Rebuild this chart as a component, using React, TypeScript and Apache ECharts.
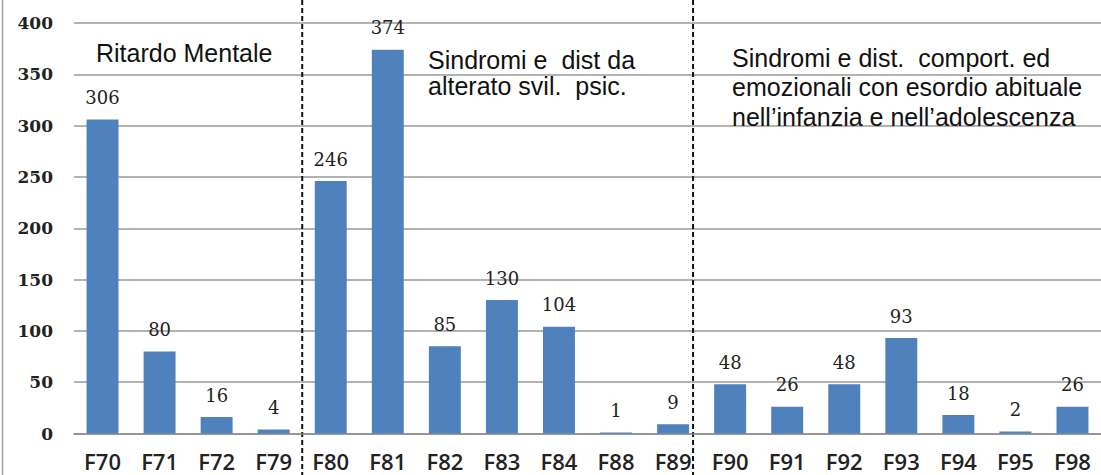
import React, { useEffect, useRef } from 'react';
import * as echarts from 'echarts';

const categories = ['F70', 'F71', 'F72', 'F79', 'F80', 'F81', 'F82', 'F83', 'F84', 'F88', 'F89', 'F90', 'F91', 'F92', 'F93', 'F94', 'F95', 'F98'];
const counts = [306, 80, 16, 4, 246, 374, 85, 130, 104, 1, 9, 48, 26, 48, 93, 18, 2, 26];
const yMin = 0;
const yMax = 400;
const yStep = 50;
const groupTitles = [
  'Ritardo Mentale',
  'Sindromi e  dist da\nalterato svil.  psic.',
  'Sindromi e dist.  comport. ed\nemozionali con esordio abituale\nnell\u2019infanzia e nell\u2019adolescenza',
];
// separators placed after these categories
const separatorAfter = ['F79', 'F89'];

export default function App() {
  const ref = useRef<HTMLDivElement>(null);
  useEffect(() => {
    if (!ref.current) return;
    const chart = echarts.init(ref.current, undefined, { renderer: 'svg' });
    chart.setOption({
      animation: false,
      backgroundColor: '#ffffff',
      grid: { left: 74, top: 23, width: 1030, height: 410.5, containLabel: false },
      xAxis: {
        type: 'category',
        data: categories,
        axisLine: { show: true, lineStyle: { color: '#8c8c8c', width: 1.5 } },
        axisTick: { show: false },
        axisLabel: {
          fontFamily: '"Open Sans"',
          fontSize: 22,
          fontWeight: 600,
          color: '#222',
          margin: 16,
          interval: 0,
        },
      },
      yAxis: {
        type: 'value',
        min: yMin,
        max: yMax,
        interval: yStep,
        axisLine: { show: false },
        axisTick: { show: false },
        axisLabel: {
          fontFamily: '"DejaVu Serif"',
          fontWeight: 'bold',
          fontSize: 17,
          color: '#222',
          margin: 21,
        },
        splitLine: { lineStyle: { color: '#9a9a9a', width: 1.5 } },
      },
      series: [
        {
          type: 'bar',
          data: counts,
          barCategoryGap: '44%',
          itemStyle: { color: '#4F81BD' },
          label: {
            show: true,
            position: 'top',
            distance: 12,
            fontFamily: '"DejaVu Serif"',
            fontSize: 18,
            lineHeight: 20,
            color: '#222',
          },
        },
      ],
    });

    const c = (name: string) => chart.convertToPixel({ xAxisIndex: 0 }, name) as number;
    const idx1 = categories.indexOf(separatorAfter[0]);
    const idx2 = categories.indexOf(separatorAfter[1]);
    const sep1 = (c(categories[idx1]) + c(categories[idx1 + 1])) / 2;
    const sep2 = c(categories[idx2]) + 0.35 * (c(categories[idx2 + 1]) - c(categories[idx2]));
    const dash = { stroke: '#111', lineWidth: 2, lineDash: [5, 3] };
    const font = '25px "Liberation Sans"';

    chart.setOption({
      graphic: [
        { type: 'line', shape: { x1: 2.5, y1: 0, x2: 2.5, y2: 475 }, style: { stroke: '#a0a0a0', lineWidth: 1.5 }, silent: true },
        { type: 'line', shape: { x1: sep1, y1: 0, x2: sep1, y2: 475 }, style: dash, silent: true },
        { type: 'line', shape: { x1: sep2, y1: 0, x2: sep2, y2: 475 }, style: dash, silent: true },
        { type: 'text', x: 96, y: 53, style: { text: groupTitles[0], font, fill: '#111', verticalAlign: 'middle' } },
        { type: 'text', x: 428, y: 46.5, style: { text: groupTitles[1], font, fill: '#111', lineHeight: 26, verticalAlign: 'top' } },
        { type: 'text', x: 732, y: 43, style: { text: groupTitles[2], font, fill: '#111', lineHeight: 29.5, verticalAlign: 'top' } },
      ],
    });

    return () => chart.dispose();
  }, []);
  return <div ref={ref} style={{ position: 'fixed', left: 0, top: 0, width: 1101, height: 475 }} />;
}
